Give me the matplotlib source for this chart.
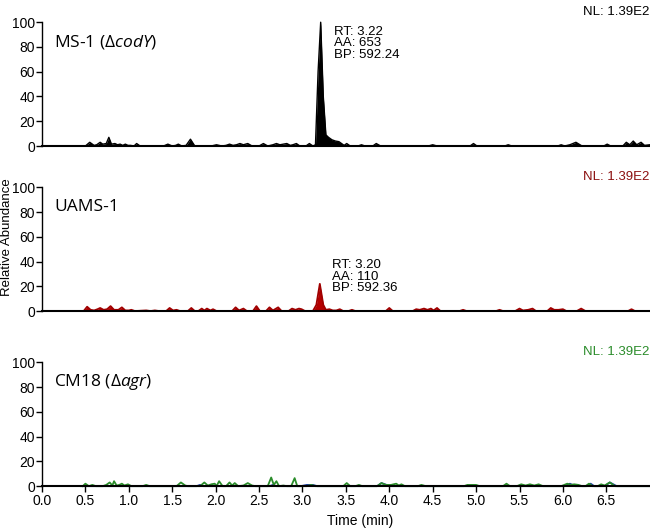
import numpy as np
import matplotlib.pyplot as plt

plt.rcParams['font.family'] = ['Liberation Sans', 'DejaVu Sans']
plt.rcParams['mathtext.fontset'] = 'custom'
plt.rcParams['mathtext.rm'] = 'Open Sans'
plt.rcParams['mathtext.it'] = 'Open Sans:italic'

# ---- data (time in min, relative abundance %) ----
ms1_t = [0.13, 0.50, 0.55, 0.60, 0.63, 0.67, 0.70, 0.74, 0.77, 0.80, 0.84, 0.87, 0.90, 0.93, 0.96,
         0.99, 1.02, 1.06, 1.09, 1.13, 1.40, 1.45, 1.50, 1.54, 1.57, 1.61, 1.66, 1.71, 1.76, 1.95,
         2.01, 2.07, 2.12, 2.16, 2.20, 2.24, 2.28, 2.32, 2.37, 2.42, 2.50, 2.55, 2.60, 2.66, 2.70,
         2.74, 2.78, 2.82, 2.86, 2.89, 2.93, 2.97, 3.04, 3.08, 3.12, 3.15, 3.18, 3.21, 3.24, 3.27,
         3.30, 3.34, 3.38, 3.42, 3.45, 3.48, 3.51, 3.55, 3.64, 3.68, 3.72, 3.81, 3.85, 3.90, 4.45,
         4.50, 4.55, 4.93, 4.97, 5.01, 5.33, 5.37, 5.41, 5.94, 5.98, 6.02, 6.08, 6.15, 6.22, 6.47,
         6.51, 6.55, 6.69, 6.73, 6.77, 6.81, 6.85, 6.90, 6.94, 7.00]
ms1_y = [0, 0, 3, 0.5, 1, 3, 1.5, 2, 7, 1.5, 2, 1, 1.5, 0.5, 1.5,
         0.5, 0.5, 0, 2, 0, 0, 1.5, 0, 0.5, 1.5, 0, 0.5, 5.5, 0, 0,
         1, 0, 0.5, 1.5, 0.5, 1, 2, 1, 2, 0, 0, 2, 0, 1, 2,
         1, 1.5, 2, 0.5, 1, 2, 0, 0, 2, 0, 1, 60, 100, 40, 9,
         7, 5, 4, 3.5, 2, 0.5, 2, 0, 0, 1, 0, 0, 2, 0, 0,
         1, 0, 0, 2, 0, 0, 1, 0, 0, 1, 0, 1, 3, 0, 0,
         1.5, 0, 0, 3, 1, 4, 1, 3, 0.5, 1]

uams_t = [0.24, 0.48, 0.52, 0.56, 0.60, 0.64, 0.67, 0.71, 0.75, 0.79, 0.83, 0.88, 0.92, 0.96, 1.00,
          1.03, 1.07, 1.20, 1.25, 1.30, 1.35, 1.43, 1.47, 1.51, 1.55, 1.59, 1.68, 1.72, 1.76, 1.80,
          1.84, 1.87, 1.90, 1.94, 1.97, 2.01, 2.19, 2.23, 2.27, 2.32, 2.36, 2.43, 2.47, 2.51, 2.58,
          2.62, 2.66, 2.72, 2.76, 2.84, 2.88, 2.92, 2.96, 2.99, 3.03, 3.12, 3.16, 3.20, 3.24, 3.27,
          3.31, 3.35, 3.39, 3.43, 3.47, 3.53, 3.57, 3.61, 3.96, 4.00, 4.04, 4.27, 4.31, 4.35, 4.40,
          4.44, 4.48, 4.51, 4.55, 4.59, 4.81, 4.85, 4.89, 5.23, 5.27, 5.31, 5.45, 5.50, 5.54, 5.60,
          5.65, 5.69, 5.82, 5.86, 5.90, 5.95, 6.00, 6.04, 6.16, 6.21, 6.26, 6.75, 6.79, 6.83, 7.00]
uams_y = [0, 0, 3.5, 1, 0.5, 1.5, 2.5, 1, 1.5, 4, 1, 1, 3, 0.5, 0.5,
          1, 0, 0.5, 0, 0.5, 0, 0, 2.5, 0.5, 1, 0, 0, 2.5, 0, 0,
          2, 0.5, 2, 0.5, 1.5, 0, 0, 3, 0.5, 2, 0, 0, 4, 0, 0,
          3, 0.5, 3, 0, 0, 2, 1, 2, 1.5, 0, 0, 5, 22, 5, 1,
          1.5, 0.5, 0.5, 1.5, 0, 0, 1, 0, 0, 2.5, 0, 0, 1.5, 1, 2,
          1, 2, 0.5, 2.5, 0, 0, 1, 0, 0, 1, 0, 0, 2, 0.5, 1,
          2, 0, 0, 2.5, 1, 1, 1.5, 0, 0, 2, 0, 0, 1.5, 0, 0]

cm18_t = [0.47, 0.50, 0.54, 0.58, 0.62, 0.70, 0.74, 0.78, 0.81, 0.83, 0.86, 0.89, 0.92, 0.95, 0.99,
          1.03, 1.16, 1.20, 1.24, 1.55, 1.60, 1.65, 1.68, 1.82, 1.87, 1.91, 1.95, 1.99, 2.01, 2.04,
          2.08, 2.12, 2.16, 2.19, 2.22, 2.26, 2.32, 2.37, 2.42, 2.46, 2.60, 2.64, 2.67, 2.70, 2.73,
          2.78, 2.82, 2.87, 2.91, 2.94, 3.05, 3.10, 3.15, 3.47, 3.51, 3.55, 3.61, 3.65, 3.69, 3.86,
          3.91, 3.96, 4.02, 4.08, 4.11, 4.14, 4.18, 4.33, 4.37, 4.42, 4.86, 4.90, 4.95, 5.00, 5.04,
          5.31, 5.35, 5.39, 5.47, 5.52, 5.57, 5.62, 5.67, 5.72, 5.77, 5.98, 6.05, 6.09, 6.13, 6.18,
          6.22, 6.26, 6.30, 6.34, 6.40, 6.44, 6.48, 6.54, 6.60, 7.00]
cm18_y = [0, 2, 0, 1, 0, 0, 1, 3, 0.5, 4, 0.5, 1, 2, 0.5, 1.5,
          0, 0, 1, 0, 0, 3, 0.5, 0, 0, 3, 0.5, 1.5, 2, 0, 4,
          0, 0, 3, 0.5, 2.5, 0, 0.5, 2.5, 0.5, 0, 0, 7, 1, 4, 0,
          0.5, 0, 0, 6.5, 0, 0, 1, 0, 0, 2.5, 0, 0, 1, 0, 0,
          2.5, 1, 1, 2, 0.5, 1.5, 0, 0, 1, 0, 0, 1, 1, 1, 0,
          0, 2, 0, 0, 1.5, 0.5, 1.5, 0.5, 1.5, 0, 0, 2, 1, 1.5, 1,
          0, 0, 2, 0, 0, 1.5, 0.5, 3, 0, 0]

cm18_blue_t = [0.45, 1.78, 1.82, 1.86, 2.62, 2.66, 2.70, 2.98, 3.05, 3.12, 3.17, 3.86, 3.91, 3.97,
               4.02, 6.02, 6.08, 6.14, 6.28, 6.32, 6.36, 6.48, 6.54, 6.62, 7.00]
cm18_blue_y = [0, 0, 1, 0, 0, 1, 0, 0, 1, 1, 0, 0, 2.5, 1,
               0, 0, 2, 0, 0, 2, 0, 0, 3, 0, 0]

samples = [r'MS-1 ($\Delta\mathit{codY}$)', 'UAMS-1', r'CM18 ($\Delta\mathit{agr}$)']
nl_text = 'NL: 1.39E2'
xticks = np.arange(0, 6.6, 0.5)
yticks = [0, 20, 40, 60, 80, 100]

fig = plt.figure(figsize=(6.5, 5.29), dpi=100)
left, width = 0.0646, 0.935
bottoms = [0.724, 0.412, 0.081]
h = 0.234
axes = [fig.add_axes([left, b, width, h]) for b in bottoms]

for ax in axes:
    ax.set_xlim(0, 7.0)
    ax.set_ylim(0, 100)
    ax.spines['top'].set_visible(False)
    ax.spines['right'].set_visible(False)
    ax.spines['left'].set_linewidth(1.0)
    ax.spines['bottom'].set_linewidth(1.5)
    ax.set_yticks(yticks)
    ax.tick_params(axis='y', direction='out', length=4, width=1, pad=1, labelsize=10)
    ax.set_xticks(xticks)
    ax.tick_params(axis='x', direction='out', length=4, width=1, pad=2, labelsize=10)

axes[0].tick_params(axis='x', bottom=False, labelbottom=False)
axes[1].tick_params(axis='x', bottom=False, labelbottom=False)
axes[2].set_xticklabels([f'{v:.1f}' for v in xticks])

# panel 1
ax = axes[0]
ax.fill_between(ms1_t, 0, ms1_y, color='black', lw=0, clip_on=False)
ax.plot(ms1_t, ms1_y, color='black', lw=1.0, clip_on=False)
ax.text(3.36, 97, 'RT: 3.22\nAA: 653\nBP: 592.24', fontsize=9.5, va='top', ha='left', linespacing=0.95)

# panel 2
ax = axes[1]
ax.fill_between(uams_t, 0, uams_y, color='#B50000', lw=0, clip_on=False)
ax.plot(uams_t, uams_y, color='#A00000', lw=1.3, clip_on=False)
ax.text(3.34, 42, 'RT: 3.20\nAA: 110\nBP: 592.36', fontsize=9.5, va='top', ha='left', linespacing=0.95)

# panel 3
ax = axes[2]
ax.plot(cm18_blue_t, cm18_blue_y, color='#1F3FA0', lw=1.3, clip_on=False)
ax.plot(cm18_t, cm18_y, color='#2A8C2A', lw=1.3, clip_on=False)

nl_colors = ['black', '#8B0F0F', '#2A8C2A']
for ax, name, c in zip(axes, samples, nl_colors):
    ax.text(0.14, 84, name, fontsize=12.5, family='Open Sans', va='center', ha='left')
    ax.text(1.0, 1.08, nl_text, transform=ax.transAxes, fontsize=9.5, color=c, ha='right', va='center')

fig.text(0.011, 0.552, 'Relative Abundance', rotation=90, fontsize=9.5, ha='center', va='center')
fig.text(0.554, 0.015, 'Time (min)', fontsize=10, ha='center', va='center')

fig.savefig('out.png', dpi=100)
